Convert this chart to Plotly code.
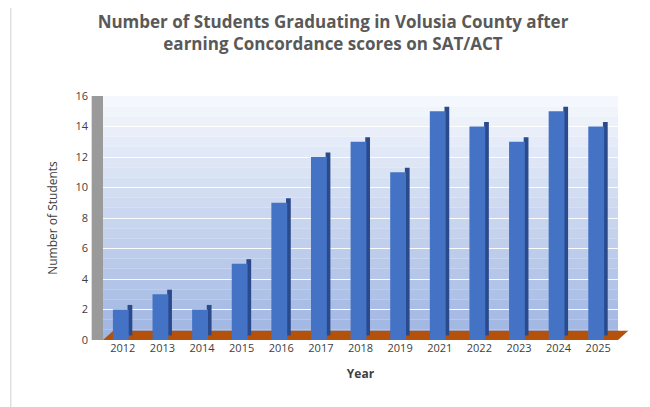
import plotly.graph_objects as go

years = ["2012", "2013", "2014", "2015", "2016", "2017", "2018",
         "2019", "2021", "2022", "2023", "2024", "2025"]
students = [2, 3, 2, 5, 9, 12, 13, 11, 15, 14, 13, 15, 14]

depth = 0.3
fig = go.Figure()
# darker side face for the 3D look
fig.add_trace(go.Bar(x=years, y=students, base=[depth] * len(years),
                     width=0.12, offset=0.12, marker_color="#2a4a8c",
                     marker_line_width=0, hoverinfo="skip"))
fig.add_trace(go.Bar(x=years, y=students, width=0.4, offset=-0.25,
                     marker_color="#4472c4", marker_line_width=0))

# gradient backdrop in bands
shapes = []
n = 24
top, bot = (244, 247, 253), (160, 182, 226)
for i in range(n):
    t = i / (n - 1)
    c = tuple(int(bot[k] + (top[k] - bot[k]) * t) for k in range(3))
    shapes.append(dict(type="rect", xref="paper", yref="y", x0=0, x1=1,
                       y0=16 * i / n, y1=16 * (i + 1) / n, layer="below",
                       fillcolor="rgb(%d,%d,%d)" % c, line_width=0))
# floor
shapes.append(dict(type="path", xref="paper", yref="y", layer="below",
                   path="M 0 0 L 1 0 L 1.02 0.6 L 0.02 0.6 Z",
                   fillcolor="#b4520b", line_width=0))
# left wall
shapes.append(dict(type="rect", xref="paper", yref="paper", x0=-0.022, x1=0,
                   y0=0, y1=1, fillcolor="#9a9a9a", line_width=0, layer="below"))
# outer border
shapes.append(dict(type="rect", xref="paper", yref="paper", x0=-0.179, x1=1.068,
                   y0=-0.287, y1=1.388, line=dict(color="#d0d0d0", width=1)))

fig.update_layout(
    width=650, height=407,
    barmode="overlay", showlegend=False,
    paper_bgcolor="white", plot_bgcolor="white",
    margin=dict(l=95, r=40, t=88, b=75),
    font=dict(family="Open Sans", color="#404040", size=11),
    title=dict(text="<b>Number of Students Graduating in Volusia County after<br>earning Concordance scores on SAT/ACT</b>",
               x=0.5, y=0.95, xanchor="center", yanchor="top",
               font=dict(size=17, color="#595959")),
    xaxis=dict(title=dict(text="<b>Year</b>", font=dict(size=12)),
               showgrid=False, ticks="", tickfont=dict(size=11)),
    yaxis=dict(title=dict(text="Number of Students", font=dict(size=12)),
               range=[0, 16], dtick=2, gridcolor="rgba(255,255,255,0.9)",
               zeroline=False, tickfont=dict(size=11), ticklabelstandoff=14),
    shapes=shapes,
)
fig.write_html("out.html")
